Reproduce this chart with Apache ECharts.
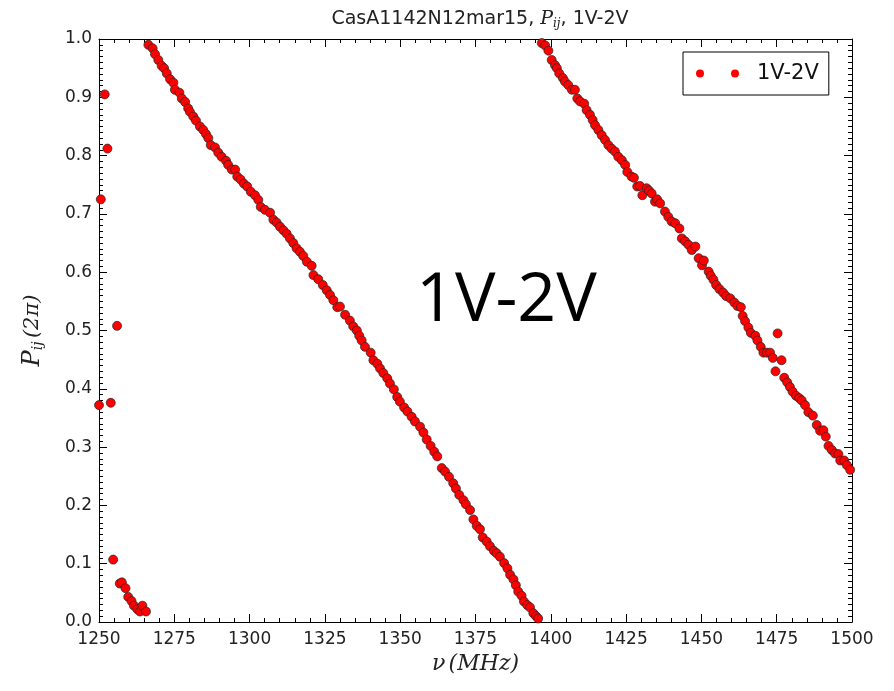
<!DOCTYPE html>
<html>
<head>
<meta charset="utf-8">
<script src="https://cdn.jsdelivr.net/npm/echarts@6/dist/echarts.min.js"></script>
<style>
html,body{margin:0;padding:0;background:#fff;}
#c{width:894px;height:691px;}
</style>
</head>
<body>
<div id="c"></div>
<script>
// ---- data ----
const seriesName = '1V-2V';
const xTicks = [1250, 1275, 1300, 1325, 1350, 1375, 1400, 1425, 1450, 1475, 1500];
const yTicks = [0.0, 0.1, 0.2, 0.3, 0.4, 0.5, 0.6, 0.7, 0.8, 0.9, 1.0];

// scattered points at the low-frequency edge
const freqEdge = [1250.0, 1250.6, 1251.9, 1252.8, 1253.9, 1254.7, 1256.0,
  1256.9, 1257.6, 1258.8, 1259.7, 1260.8, 1261.6, 1262.7, 1263.6, 1264.4, 1265.6];
const phaseEdge = [0.372, 0.725, 0.905, 0.812, 0.376, 0.107, 0.508,
  0.066, 0.068, 0.058, 0.043, 0.036, 0.028, 0.022, 0.018, 0.028, 0.018];

// first wrapped strand
const freqA = [1266.4, 1267.8, 1268.6, 1269.7, 1270.8, 1271.6, 1272.5, 1273.6, 1274.7, 1275.2,
  1276.7, 1277.5, 1278.6, 1279.6, 1280.2, 1281.3, 1282.2, 1283.5, 1284.6, 1285.5,
  1286.3, 1287.1, 1288.5, 1289.6, 1290.7, 1292.2, 1292.9, 1294.1, 1295.2, 1295.9,
  1297.0, 1298.1, 1299.2, 1300.4, 1301.8, 1302.9, 1303.7, 1305.1, 1306.8, 1307.9,
  1309.0, 1310.1, 1311.2, 1312.3, 1313.4, 1314.5, 1315.6, 1316.7, 1317.8, 1319.0,
  1320.6, 1321.2, 1322.8, 1324.3, 1325.6, 1326.7, 1327.8, 1329.1, 1330.0, 1331.7,
  1333.3, 1334.4, 1335.6, 1336.4, 1337.2, 1338.3, 1340.2, 1341.1, 1342.4, 1343.3,
  1344.4, 1345.7, 1346.6, 1347.9, 1349.0, 1349.9, 1351.3, 1352.4, 1353.8, 1354.9,
  1356.6, 1357.7, 1358.8, 1360.1, 1361.3, 1362.3, 1363.8, 1364.9, 1366.2, 1367.6,
  1368.5, 1369.6, 1371.0, 1371.8, 1373.2, 1374.3, 1375.4, 1376.5, 1377.4, 1378.7,
  1379.8, 1381.1, 1382.0, 1383.1, 1384.5, 1385.6, 1386.5, 1387.6, 1388.4, 1389.2,
  1390.3, 1391.1, 1392.2, 1393.1, 1394.2, 1395.1, 1395.8];
const phaseA = [0.990, 0.984, 0.974, 0.964, 0.954, 0.950, 0.941, 0.931, 0.925, 0.913,
  0.908, 0.898, 0.892, 0.881, 0.875, 0.867, 0.860, 0.850, 0.844, 0.837,
  0.830, 0.818, 0.814, 0.805, 0.798, 0.791, 0.784, 0.776, 0.776, 0.764,
  0.759, 0.752, 0.747, 0.738, 0.732, 0.724, 0.712, 0.707, 0.702, 0.690,
  0.685, 0.678, 0.672, 0.666, 0.658, 0.650, 0.641, 0.635, 0.628, 0.618,
  0.611, 0.595, 0.588, 0.578, 0.569, 0.561, 0.552, 0.540, 0.541, 0.527,
  0.517, 0.507, 0.500, 0.491, 0.483, 0.472, 0.462, 0.449, 0.443, 0.435,
  0.427, 0.418, 0.409, 0.399, 0.386, 0.378, 0.368, 0.361, 0.352, 0.344,
  0.335, 0.325, 0.313, 0.302, 0.292, 0.284, 0.264, 0.258, 0.249, 0.238,
  0.229, 0.218, 0.209, 0.202, 0.192, 0.176, 0.165, 0.159, 0.145, 0.138,
  0.130, 0.122, 0.118, 0.112, 0.101, 0.092, 0.081, 0.073, 0.063, 0.052,
  0.045, 0.035, 0.029, 0.025, 0.015, 0.010, 0.006];

// second wrapped strand
const freqB = [1397.0, 1398.1, 1399.2, 1400.3, 1401.4, 1402.0, 1402.8, 1404.0, 1404.7, 1405.8,
  1407.0, 1408.0, 1408.8, 1409.7, 1411.1, 1411.9, 1413.0, 1413.9, 1414.7, 1415.8,
  1416.9, 1418.0, 1419.1, 1420.2, 1421.3, 1422.4, 1423.6, 1424.7, 1425.4, 1426.8,
  1427.6, 1428.7, 1429.6, 1430.4, 1431.8, 1432.6, 1433.5, 1434.6, 1435.3, 1436.3,
  1437.9, 1439.0, 1440.1, 1441.3, 1442.7, 1443.5, 1444.6, 1445.7, 1446.8, 1448.0,
  1449.1, 1450.2, 1450.8, 1452.4, 1453.1, 1454.0, 1454.9, 1456.0, 1457.2, 1458.2,
  1459.6, 1460.9, 1462.0, 1463.1, 1463.7, 1464.5, 1465.6, 1466.4, 1467.9, 1468.6,
  1469.7, 1470.6, 1471.7, 1472.8, 1473.7, 1474.6, 1475.3, 1476.6, 1477.5, 1478.5,
  1479.4, 1480.3, 1481.4, 1482.5, 1483.3, 1484.4, 1485.5, 1487.0, 1488.3, 1489.4,
  1490.5, 1491.3, 1492.2, 1493.3, 1494.4, 1495.5, 1496.1, 1497.4, 1498.3, 1499.4, 1500.2];
const phaseB = [0.993, 0.989, 0.980, 0.964, 0.955, 0.950, 0.941, 0.933, 0.927, 0.921,
  0.913, 0.913, 0.898, 0.893, 0.889, 0.878, 0.870, 0.861, 0.852, 0.844,
  0.835, 0.827, 0.818, 0.812, 0.807, 0.798, 0.792, 0.784, 0.772, 0.764,
  0.762, 0.747, 0.748, 0.732, 0.744, 0.740, 0.735, 0.721, 0.725, 0.718,
  0.704, 0.695, 0.687, 0.684, 0.675, 0.658, 0.653, 0.647, 0.638, 0.644,
  0.624, 0.612, 0.620, 0.601, 0.594, 0.587, 0.578, 0.571, 0.565, 0.559,
  0.555, 0.548, 0.542, 0.540, 0.525, 0.516, 0.505, 0.496, 0.491, 0.483,
  0.472, 0.462, 0.462, 0.462, 0.453, 0.430, 0.495, 0.449, 0.419, 0.411,
  0.403, 0.395, 0.388, 0.384, 0.380, 0.372, 0.360, 0.354, 0.338, 0.328,
  0.329, 0.318, 0.302, 0.295, 0.289, 0.288, 0.277, 0.277, 0.269, 0.261, 0.258];

// ---- build ----
function pairs(xs, ys) { return xs.map((x, i) => [x, ys[i]]); }
const points = [].concat(pairs(freqEdge, phaseEdge), pairs(freqA, phaseA), pairs(freqB, phaseB));

const chart = echarts.init(document.getElementById('c'), null, {renderer: 'canvas'});
const axisFont = {fontFamily: 'DejaVu Sans', fontSize: 17, color: '#222'};
const xMin = xTicks[0], xMax = xTicks[xTicks.length - 1], xInt = xTicks[1] - xTicks[0];
const yMin = yTicks[0], yMax = yTicks[yTicks.length - 1], yInt = 0.1;

function xAx(pos, showLabel) {
  return {
    type: 'value', position: pos, min: xMin, max: xMax, interval: xInt,
    axisLine: {show: true, onZero: false, lineStyle: {color: '#000', width: 1}},
    axisTick: {show: true, inside: true, length: 8, lineStyle: {color: '#000'}},
    minorTick: {show: true, splitNumber: 5, length: 4, lineStyle: {color: '#000'}},
    splitLine: {show: false},
    axisLabel: Object.assign({show: showLabel, margin: 9, formatter: v => String(Math.round(v))}, axisFont),
    name: showLabel ? '{v|ν} {n|(MHz)}' : '',
    nameLocation: 'middle', nameGap: 28,
    nameTextStyle: {rich: {
      v: {fontFamily: 'DejaVu Serif', fontStyle: 'italic', fontSize: 22, color: '#222'},
      n: {fontFamily: 'DejaVu Serif', fontStyle: 'italic', fontSize: 22, color: '#222'}
    }}
  };
}
function yAx(pos, showLabel) {
  return {
    type: 'value', position: pos, min: yMin, max: yMax, interval: yInt,
    axisLine: {show: true, onZero: false, lineStyle: {color: '#000', width: 1}},
    axisTick: {show: true, inside: true, length: 8, lineStyle: {color: '#000'}},
    minorTick: {show: true, splitNumber: 10, length: 4, lineStyle: {color: '#000'}},
    splitLine: {show: false},
    axisLabel: Object.assign({show: showLabel, margin: 7, formatter: v => v.toFixed(1)}, axisFont),
    name: showLabel ? '{p|P}{s|ij} {n|(2π)}' : '',
    nameLocation: 'middle', nameGap: 54, nameRotate: 90,
    nameTextStyle: {rich: {
      p: {fontFamily: 'DejaVu Serif', fontStyle: 'italic', fontSize: 24, color: '#222'},
      s: {fontFamily: 'DejaVu Serif', fontStyle: 'italic', fontSize: 14, color: '#222', verticalAlign: 'bottom', padding: [8, 0, 0, 0]},
      n: {fontFamily: 'DejaVu Serif', fontStyle: 'italic', fontSize: 21, color: '#222'}
    }}
  };
}

chart.setOption({
  backgroundColor: '#fff',
  animation: false,
  title: {
    text: '{a|CasA1142N12mar15, }{p|P}{s|ij}{a|, 1V-2V}',
    left: 475, top: 3, textAlign: 'center',
    textStyle: {fontWeight: 'normal', rich: {
      a: {fontFamily: 'DejaVu Sans', fontSize: 19, fontWeight: 'normal', color: '#222'},
      p: {fontFamily: 'DejaVu Serif', fontStyle: 'italic', fontWeight: 'normal', fontSize: 19, color: '#222'},
      s: {fontFamily: 'DejaVu Serif', fontStyle: 'italic', fontWeight: 'normal', fontSize: 12, color: '#222', padding: [10, 0, 0, 0]}
    }}
  },
  legend: {
    data: [seriesName],
    left: 683, top: 52,
    orient: 'vertical',
    backgroundColor: '#fff',
    borderColor: '#000', borderWidth: 1, borderRadius: 0,
    padding: [11, 10, 11, 13],
    icon: 'path://M0,4a4,4 0 1,0 8,0a4,4 0 1,0 -8,0M35,4a4,4 0 1,0 8,0a4,4 0 1,0 -8,0',
    itemWidth: 43, itemHeight: 8,
    itemStyle: {color: '#ff0000', borderWidth: 0},
    textStyle: {fontFamily: 'DejaVu Sans', fontSize: 21, color: '#111', padding: [0, 0, 0, 13]}
  },
  grid: {left: 99, right: 42, top: 39, bottom: 69, containLabel: false},
  xAxis: [xAx('bottom', true), xAx('top', false)],
  yAxis: [yAx('left', true), yAx('right', false)],
  graphic: [{
    type: 'text', left: 416, top: 268,
    style: {text: '1V-2V', fontFamily: 'Open Sans', fontSize: 68, fill: '#000'}
  }],
  series: [{
    name: seriesName,
    type: 'scatter',
    xAxisIndex: 0, yAxisIndex: 0,
    data: points,
    symbol: 'circle',
    symbolSize: 9,
    clip: true,
    itemStyle: {color: '#ff0000', borderColor: '#222', borderWidth: 0.7, opacity: 1}
  }]
});
</script>
</body>
</html>
